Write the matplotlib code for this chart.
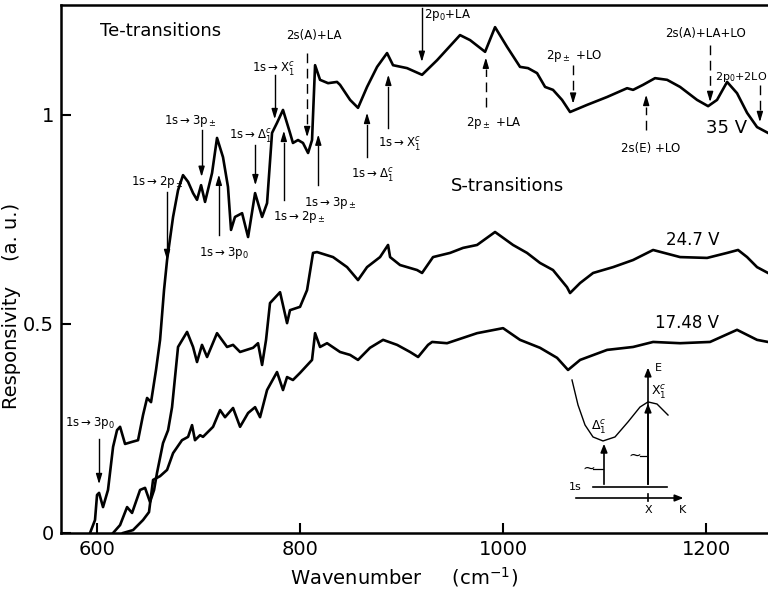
import matplotlib
matplotlib.use("Agg")
import matplotlib.pyplot as plt
import numpy as np

# ---- data (wavenumber cm^-1, responsivity a.u.) ----
wn_35 = [593.1, 598.0, 600.0, 602.0, 605.9, 610.8, 615.8, 619.7, 622.7, 627.6, 634.5, 640.4,
         645.3, 649.3, 653.2, 658.1, 662.1, 666.0, 669.0, 674.9, 679.8, 684.7, 689.7, 694.6,
         698.5, 702.5, 706.4, 713.3, 718.2, 724.1, 729.0, 732.0, 735.9, 742.9, 748.8, 755.7,
         762.6, 767.5, 772.4, 777.3, 783.2, 790.1, 793.0, 798.0, 802.9, 807.9, 811.8, 814.8,
         819.7, 827.6, 836.4, 839.4, 849.3, 857.1, 866.0, 875.9, 885.7, 891.6, 905.4, 920.2,
         935.0, 957.6, 967.5, 982.3, 992.1, 1003.9, 1016.7, 1024.6, 1033.5, 1041.4, 1049.2,
         1058.1, 1066.0, 1082.7, 1102.5, 1122.2, 1128.1, 1137.9, 1149.7, 1161.6, 1174.4,
         1191.1, 1202.0, 1210.8, 1220.7, 1230.5, 1240.4, 1250.2, 1261.0]
r_35 = [0.0, 0.031, 0.091, 0.096, 0.062, 0.103, 0.206, 0.246, 0.254, 0.213, 0.218, 0.222,
        0.282, 0.323, 0.313, 0.39, 0.462, 0.581, 0.653, 0.756, 0.82, 0.856, 0.84, 0.813,
        0.797, 0.832, 0.792, 0.861, 0.945, 0.899, 0.828, 0.725, 0.756, 0.765, 0.708, 0.813,
        0.756, 0.789, 0.957, 0.981, 1.012, 0.957, 0.933, 0.94, 0.933, 0.909, 0.94, 1.119,
        1.084, 1.076, 1.079, 1.072, 1.036, 1.017, 1.067, 1.115, 1.148, 1.119, 1.112, 1.096,
        1.131, 1.191, 1.179, 1.151, 1.21, 1.163, 1.115, 1.112, 1.1, 1.067, 1.06,
        1.036, 1.007, 1.024, 1.043, 1.064, 1.06, 1.072, 1.088, 1.084, 1.067,
        1.036, 1.021, 1.036, 1.079, 1.052, 1.005, 0.971, 0.957]

wn_247 = [615.8, 622.7, 629.6, 634.5, 642.4, 647.3, 652.2, 656.2, 659.1, 665.0, 670.0, 673.9,
          679.8, 688.7, 694.6, 698.5, 703.4, 708.4, 718.2, 728.1, 734.0, 740.9, 753.7, 758.6,
          762.6, 766.5, 770.4, 780.3, 787.2, 790.1, 800.0, 806.9, 812.8, 816.7, 832.5, 846.3,
          857.1, 866.0, 878.8, 886.7, 888.7, 898.5, 915.3, 920.2, 931.0, 947.8, 960.6, 974.4,
          992.1, 1009.8, 1023.6, 1036.4, 1049.2, 1063.0, 1066.0, 1075.9, 1088.7, 1108.4,
          1128.1, 1147.8, 1174.4, 1201.0, 1220.7, 1231.5, 1240.4, 1250.2, 1261.0]
r_247 = [0.0, 0.019, 0.062, 0.048, 0.103, 0.108, 0.074, 0.103, 0.144, 0.215, 0.246, 0.301,
         0.445, 0.481, 0.445, 0.409, 0.45, 0.421, 0.478, 0.445, 0.45, 0.433, 0.443, 0.454,
         0.402, 0.462, 0.55, 0.576, 0.502, 0.533, 0.541, 0.581, 0.67, 0.672, 0.66, 0.636,
         0.605, 0.636, 0.66, 0.689, 0.66, 0.641, 0.629, 0.622, 0.66, 0.67, 0.682, 0.689,
         0.72, 0.689, 0.67, 0.646, 0.629, 0.588, 0.574, 0.598, 0.622, 0.636,
         0.653, 0.677, 0.66, 0.658, 0.67, 0.677, 0.66, 0.636, 0.622]

wn_1748 = [625.6, 635.5, 645.3, 651.2, 655.2, 662.1, 669.0, 674.9, 683.7, 689.7, 693.6, 696.5,
           701.5, 704.4, 714.3, 721.2, 726.1, 734.0, 740.9, 748.8, 755.7, 760.6, 767.5, 777.3,
           783.2, 787.2, 793.0, 800.0, 811.8, 814.8, 819.7, 826.6, 839.4, 849.3, 857.1, 868.9,
           881.8, 895.6, 908.4, 916.3, 926.1, 930.1, 944.8, 974.4, 1000.0, 1016.7, 1036.4,
           1053.2, 1064.0, 1075.9, 1102.5, 1128.1, 1147.8, 1174.4, 1203.9, 1230.5, 1250.2, 1261.0]
r_1748 = [0.0, 0.007, 0.031, 0.05, 0.127, 0.136, 0.151, 0.191, 0.222, 0.23, 0.258, 0.222,
          0.234, 0.23, 0.254, 0.294, 0.277, 0.299, 0.254, 0.287, 0.301, 0.277, 0.342, 0.385,
          0.342, 0.373, 0.366, 0.383, 0.414, 0.478, 0.445, 0.454, 0.433, 0.426, 0.414, 0.443,
          0.462, 0.45, 0.433, 0.421, 0.45, 0.457, 0.454, 0.478, 0.49, 0.462, 0.443,
          0.419, 0.39, 0.414, 0.438, 0.445, 0.457, 0.454, 0.457, 0.486, 0.462, 0.457]

# transition markers: label, x, arrow start y, arrow end y, dashed, label x, label y
marks = [
    (r"1s$\rightarrow$3p$_0$", 602, 0.225, 0.11, False, 568, 0.262),
    (r"1s$\rightarrow$2p$_\pm$", 669, 0.816, 0.646, False, 633, 0.84),
    (r"1s$\rightarrow$3p$_\pm$", 703, 0.964, 0.845, False, 666, 0.985),
    (r"1s$\rightarrow$3p$_0$", 720, 0.713, 0.864, False, 700, 0.67),
    (r"1s$\rightarrow\Delta_1^c$", 756, 0.928, 0.825, False, 730, 0.95),
    (r"1s$\rightarrow$X$_1^c$", 775, 1.096, 0.983, False, 753, 1.11),
    ("2s(A)+LA", 807, 1.148, 0.94, True, 786, 1.19),
    (r"1s$\rightarrow$2p$_\pm$", 784, 0.797, 0.969, False, 773, 0.755),
    (r"1s$\rightarrow$3p$_\pm$", 818, 0.833, 0.96, False, 804, 0.79),
    (r"1s$\rightarrow\Delta_1^c$", 866, 0.90, 1.012, False, 850, 0.855),
    (r"1s$\rightarrow$X$_1^c$", 887, 0.969, 1.103, False, 877, 0.93),
    (r"2p$_0$+LA", 920, 1.256, 1.12, False, 922, 1.24),
    (r"2p$_\pm$ +LA", 983, 1.02, 1.144, True, 963, 0.98),
    (r"2p$_\pm$ +LO", 1069, 1.12, 1.02, True, 1042, 1.14),
    ("2s(E) +LO", 1141, 0.964, 1.055, True, 1116, 0.92),
    ("2s(A)+LA+LO", 1204, 1.167, 1.024, True, 1160, 1.195),
    (r"2p$_0$+2LO", 1253, 1.072, 0.976, True, 1209, 1.09),
]

# inset band diagram (inset axes units 0..1)
band_u = [0.056, 0.104, 0.16, 0.224, 0.304, 0.4, 0.504, 0.6, 0.664, 0.736, 0.824]
band_v = [0.875, 0.719, 0.594, 0.519, 0.494, 0.519, 0.613, 0.706, 0.738, 0.725, 0.656]

fig = plt.figure(figsize=(7.68, 5.92), dpi=100)
ax = fig.add_axes([61 / 768, 59 / 592, 707 / 768, 528 / 592])

for wn, r in [(wn_35, r_35), (wn_247, r_247), (wn_1748, r_1748)]:
    ax.plot(wn, r, color="black", lw=1.9, solid_joinstyle="round")

ax.set_xlim(564.5, 1261)
ax.set_ylim(0, 1.263)
ax.set_xticks([600, 800, 1000, 1200])
ax.set_yticks([0, 0.5, 1])
ax.set_yticklabels(["0", "0.5", "1"])
ax.tick_params(direction="in", length=7, width=1.5, labelsize=14, pad=5)
ax.spines["right"].set_visible(False)
for s in ["left", "bottom", "top"]:
    ax.spines[s].set_linewidth(1.8)
ax.set_xlabel(r"Wavenumber     (cm$^{-1}$)", fontsize=14)
ax.set_ylabel("Responsivity    (a. u.)", fontsize=14)
ax.xaxis.set_label_coords(0.485, -0.06)
ax.yaxis.set_label_coords(-0.056, 0.43)

head = "-|>,head_length=0.6,head_width=0.18"
for lab, x, y0, y1, dashed, lx, ly in marks:
    step = 0.035 if y1 > y0 else -0.035
    ax.plot([x, x], [y0, y1 - step], color="black", lw=1.0,
            ls=(0, (7, 4)) if dashed else "-")
    ax.annotate("", xy=(x, y1), xytext=(x, y1 - step),
                arrowprops=dict(arrowstyle=head, color="black", lw=1.0))
    ax.text(lx, ly, lab, fontsize=8.5 if x < 1250 else 8, ha="left", va="center")

ax.text(603, 1.2, "Te-transitions", fontsize=13, va="center")
ax.text(949, 0.83, "S-transitions", fontsize=13, va="center")
ax.text(1200, 0.969, "35 V", fontsize=13, va="center")
ax.text(1161, 0.70, "24.7 V", fontsize=12, va="center")
ax.text(1150, 0.502, "17.48 V", fontsize=12, va="center")

# inset: conduction band sketch
ins = fig.add_axes([565 / 768, (592 - 520) / 592, 125 / 768, 160 / 592])
ins.set_xlim(0, 1)
ins.set_ylim(0, 1)
ins.axis("off")
ins.plot(band_u, band_v, color="black", lw=1.0)
ins.plot([0.224, 0.816], [0.206, 0.206], color="black", lw=1.2)
ins.annotate("", xy=(0.97, 0.1375), xytext=(0.064, 0.1375),
             arrowprops=dict(arrowstyle="-|>,head_length=0.5,head_width=0.2", color="black", lw=1.2))
ins.plot([0.664, 0.664], [0.12, 0.16], color="black", lw=1.2)
ins.annotate("", xy=(0.664, 0.97), xytext=(0.664, 0.206),
             arrowprops=dict(arrowstyle="-|>,head_length=0.5,head_width=0.2", color="black", lw=1.2))
ins.annotate("", xy=(0.664, 0.745), xytext=(0.664, 0.206),
             arrowprops=dict(arrowstyle="-|>,head_length=0.5,head_width=0.2", color="black", lw=1.2))
ins.annotate("", xy=(0.312, 0.494), xytext=(0.312, 0.206),
             arrowprops=dict(arrowstyle="-|>,head_length=0.5,head_width=0.2", color="black", lw=1.2))
ins.text(0.19, 0.325, "~", fontsize=11, ha="center", va="center")
ins.text(0.56, 0.406, "~", fontsize=11, ha="center", va="center")
ins.plot([0.22, 0.30], [0.32, 0.32], color="black", lw=0.9)
ins.plot([0.6, 0.65], [0.40, 0.40], color="black", lw=0.9)
ins.text(0.13, 0.206, "1s", fontsize=8, ha="right", va="center")
ins.text(0.664, 0.06, "X", fontsize=8, ha="center", va="center")
ins.text(0.94, 0.06, "K", fontsize=8, ha="center", va="center")
ins.text(0.72, 0.95, "E", fontsize=8, ha="left", va="center")
ins.text(0.27, 0.58, r"$\Delta_1^c$", fontsize=9, ha="center", va="center")
ins.text(0.75, 0.80, r"X$_1^c$", fontsize=9, ha="center", va="center")

fig.savefig("out.png", dpi=100)
